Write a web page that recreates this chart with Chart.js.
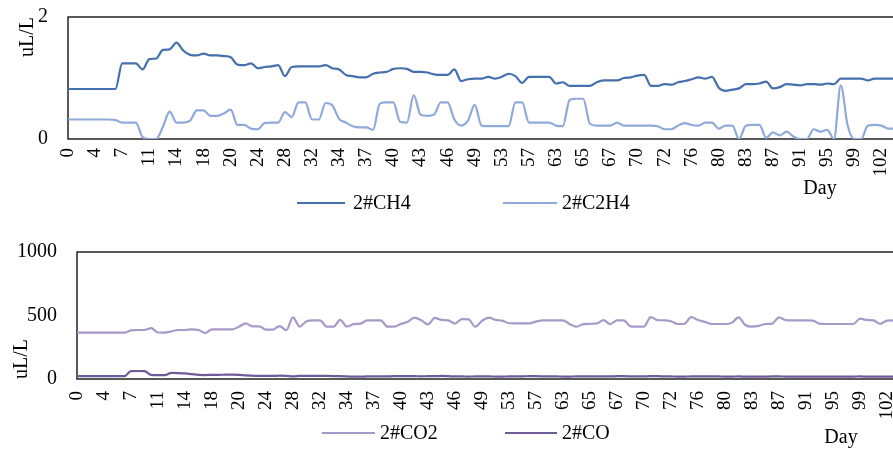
<!DOCTYPE html>
<html><head><meta charset="utf-8">
<script src="https://cdn.jsdelivr.net/npm/chart.js@4.4.1/dist/chart.umd.min.js"></script>
<style>
html,body{margin:0;padding:0;background:#fff;overflow:hidden;width:893px;height:449px;position:relative;}
#top{position:absolute;left:0;top:0;width:910px;height:225px;}
#bot{position:absolute;left:0;top:230px;width:916px;height:219px;}
</style></head><body>
<div id="top"><canvas id="c1"></canvas></div>
<div id="bot"><canvas id="c2"></canvas></div>
<script>
// Day labels shown on the category axis (one every 4 samples)
const tickLabels = ['0','4','7','11','14','18','20','24','28','32','34','37','40','43','46','49','53','57','63','65','67','70','72','76','80','83','87','91','95','99','102'];
const samplesPerLabel = 4;

const ch4 = [0.82,0.82,0.82,0.82,0.82,0.82,0.82,0.82,1.24,1.24,1.24,1.14,1.31,1.32,1.46,1.47,1.58,1.45,1.38,1.37,1.40,1.37,1.37,1.36,1.34,1.22,1.21,1.24,1.16,1.18,
1.19,1.21,1.03,1.18,1.19,1.19,1.19,1.19,1.21,1.16,1.14,1.05,1.03,1.01,1.01,1.07,1.09,1.10,1.15,1.16,1.15,1.10,1.10,1.09,1.06,1.05,1.05,1.14,0.95,0.98,
0.99,0.99,1.02,0.99,1.02,1.07,1.03,0.92,1.02,1.02,1.02,1.02,0.91,0.93,0.87,0.87,0.87,0.87,0.93,0.96,0.96,0.96,1.00,1.01,1.04,1.05,0.87,0.87,0.90,0.89,
0.93,0.95,0.98,1.01,0.99,1.02,0.84,0.79,0.81,0.83,0.90,0.90,0.91,0.94,0.83,0.85,0.90,0.89,0.88,0.90,0.90,0.89,0.91,0.90,0.99,0.99,0.99,0.99,0.96,0.99,0.99,0.99,0.99];

const c2h4 = [0.32,0.32,0.32,0.32,0.32,0.32,0.32,0.31,0.27,0.27,0.27,0.03,0,0,0.20,0.45,0.27,0.27,0.30,0.47,0.47,0.38,0.38,0.42,0.48,0.23,0.23,0.17,0.16,0.26,
0.27,0.27,0.44,0.36,0.60,0.60,0.32,0.32,0.59,0.55,0.33,0.27,0.21,0.19,0.19,0.15,0.58,0.60,0.60,0.28,0.27,0.72,0.40,0.38,0.40,0.60,0.60,0.32,0.22,0.30,
0.56,0.22,0.21,0.21,0.21,0.21,0.60,0.60,0.27,0.27,0.27,0.27,0.22,0.21,0.64,0.66,0.66,0.25,0.22,0.22,0.22,0.27,0.22,0.22,0.22,0.22,0.22,0.21,0.16,0.16,
0.22,0.26,0.23,0.22,0.27,0.27,0.17,0.22,0.22,0,0.22,0.23,0.23,0.02,0.11,0.06,0.12,0.04,0,0,0.16,0.12,0.15,0,0.88,0.23,0,0,0.22,0.23,0.22,0.17,0.17];

const co2 = [365,365,365,365,365,365,365,365,383,386,386,400,366,365,375,386,386,391,386,362,391,391,391,391,412,438,414,414,389,389,
417,384,486,412,455,462,462,412,412,465,412,432,436,462,462,462,412,412,434,450,484,462,430,482,465,462,436,472,470,412,
458,484,465,460,439,438,438,438,452,462,462,462,462,432,412,432,435,438,463,432,462,462,414,412,413,487,464,462,455,433,
435,487,465,450,433,433,433,442,486,425,412,418,433,436,486,464,462,462,462,460,436,433,433,433,433,433,475,465,462,434,460,462,462];

const co = [22,22,22,22,22,22,22,22,62,63,62,32,30,30,48,47,44,38,32,31,33,33,34,34,33,28,26,24,24,24,
26,24,20,24,25,25,25,24,23,22,20,18,18,20,20,20,21,22,22,22,22,21,22,22,24,22,20,20,19,20,
20,20,19,19,20,21,21,22,22,21,20,20,19,19,20,20,21,21,20,20,22,22,21,20,21,22,22,21,20,19,
19,20,20,21,21,20,19,19,20,19,18,18,19,20,20,19,19,18,18,19,19,18,18,18,19,19,20,19,18,18,18,18,18];

const categories = ch4.map((_, i) => i % samplesPerLabel === 0 && tickLabels[i / samplesPerLabel] !== undefined ? tickLabels[i / samplesPerLabel] : '');

const FONT = '"Liberation Serif", "Times New Roman", serif';

const decor = {
  id: 'decor',
  beforeDatasetsDraw(chart) {
    const {ctx, chartArea: a} = chart;
    ctx.save();
    ctx.strokeStyle = '#000'; ctx.lineWidth = 1.3;
    ctx.strokeRect(a.left, a.top, a.right - a.left, a.bottom - a.top);
    ctx.restore();
  },
  afterDraw(chart, args, opts) {
    const {ctx} = chart;
    ctx.save();
    ctx.font = '20px ' + FONT; ctx.fillStyle = '#000';
    ctx.textBaseline = 'middle'; ctx.textAlign = 'left';
    opts.items.forEach((it, k) => {
      const ds = chart.data.datasets[k];
      ctx.strokeStyle = ds.borderColor; ctx.lineWidth = 2.2;
      ctx.beginPath(); ctx.moveTo(it.x0, opts.y); ctx.lineTo(it.x1, opts.y); ctx.stroke();
      ctx.fillText(ds.label, it.tx, opts.y + 1);
    });
    ctx.textAlign = 'center';
    ctx.fillText('Day', opts.day.x, opts.day.y);
    ctx.restore();
  }
};

function makeChart(id, cfg) {
  return new Chart(document.getElementById(id), {
    type: 'line',
    data: {
      labels: categories,
      datasets: cfg.series.map(s => ({
        label: s.label, data: s.data, borderColor: s.color, backgroundColor: s.color,
        borderWidth: 2.2, pointRadius: 0, cubicInterpolationMode: 'monotone', fill: false
      }))
    },
    options: {
      responsive: true, maintainAspectRatio: false, animation: false, devicePixelRatio: 1,
      layout: {padding: cfg.padding},
      plugins: {legend: {display: false}, tooltip: {enabled: false}, decor: cfg.decor},
      scales: {
        x: {
          type: 'category', offset: false,
          grid: {display: false, drawTicks: false}, border: {display: false},
          ticks: {autoSkip: false, maxRotation: 90, minRotation: 90, padding: cfg.xPad, color: '#000', font: {family: FONT, size: 19}},
          afterFit: s => { s.height = cfg.xHeight; s.paddingLeft = 0; s.paddingRight = 0; }
        },
        y: {
          min: cfg.yMin, max: cfg.yMax,
          grid: {display: false, drawTicks: false}, border: {display: false},
          ticks: {stepSize: cfg.yStep, padding: 20, color: '#000', font: {family: FONT, size: 20}, callback: v => String(v)},
          title: {display: true, text: 'uL/L', color: '#000', align: cfg.titleAlign, padding: {top: cfg.titlePad, bottom: 0}, font: {family: FONT, size: 20}},
          afterFit: s => { s.width = cfg.yWidth; s.paddingTop = 0; s.paddingBottom = 0; }
        }
      }
    },
    plugins: [decor]
  });
}

makeChart('c1', {
  series: [{label: '2#CH4', data: ch4, color: '#4470AD'}, {label: '2#C2H4', data: c2h4, color: '#8FAADA'}],
  padding: {left: 0, top: 17, right: 15, bottom: 0},
  yMin: 0, yMax: 2, yStep: 2, yWidth: 68, xHeight: 86, xPad: 9,
  titleAlign: 'end', titlePad: 16,
  decor: {y: 203, items: [{x0: 297, x1: 345, tx: 353}, {x0: 503, x1: 557, tx: 562}], day: {x: 820, y: 189}}
});

makeChart('c2', {
  series: [{label: '2#CO2', data: co2, color: '#A899C8'}, {label: '2#CO', data: co, color: '#6E5A98'}],
  padding: {left: 0, top: 22, right: 15.5, bottom: 0},
  yMin: 0, yMax: 1000, yStep: 500, yWidth: 77, xHeight: 70, xPad: 12,
  titleAlign: 'start', titlePad: 10,
  decor: {y: 203, items: [{x0: 322, x1: 375, tx: 380}, {x0: 505, x1: 557, tx: 562}], day: {x: 841, y: 208}}
});
</script>
</body></html>
